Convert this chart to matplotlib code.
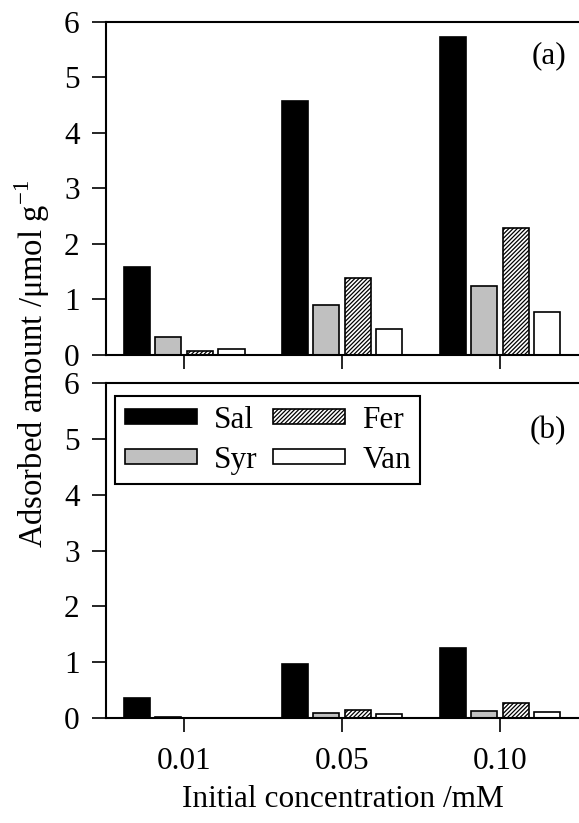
import numpy as np
import matplotlib.pyplot as plt
from matplotlib.patches import Patch

plt.rcParams['font.family'] = ['Liberation Serif', 'DejaVu Serif']
plt.rcParams['mathtext.fontset'] = 'custom'
plt.rcParams['mathtext.rm'] = 'Liberation Serif'
plt.rcParams['hatch.linewidth'] = 0.9

concs = ['0.01', '0.05', '0.10']
series = ['Sal', 'Syr', 'Fer', 'Van']

# panel (a)
sal_a = [1.58, 4.57, 5.73]
syr_a = [0.32, 0.90, 1.24]
fer_a = [0.07, 1.38, 2.28]
van_a = [0.10, 0.47, 0.77]

# panel (b)
sal_b = [0.36, 0.97, 1.26]
syr_b = [0.02, 0.09, 0.12]
fer_b = [0.00, 0.14, 0.27]
van_b = [0.00, 0.07, 0.11]

colors = ['black', '#c0c0c0', 'white', 'white']
hatches = [None, None, '////////', None]
offsets = [-0.3, -0.1, 0.1, 0.3]
width = 0.165
fs = 22.5

fig = plt.figure(figsize=(5.79, 8.23), dpi=100)
ax_a = fig.add_axes([0.183, 0.5687, 0.817, 0.4046])
ax_b = fig.add_axes([0.183, 0.1276, 0.817, 0.4070])

x = np.arange(len(concs))


def draw_panel(ax, data, label, label_y):
    for vals, c, h, off in zip(data, colors, hatches, offsets):
        ax.bar(x + off, vals, width=width, color=c, edgecolor='black',
               linewidth=1.2, hatch=h)
    ax.set_xlim(-0.495, 2.5)
    ax.set_ylim(0, 6)
    ax.set_yticks(range(7))
    ax.set_xticks(x)
    ax.tick_params(direction='out', length=10, width=1.2, labelsize=fs)
    ax.tick_params(axis='y', pad=9)
    ax.tick_params(axis='x', pad=11)
    for s in ax.spines.values():
        s.set_linewidth(1.5)
    ax.spines['right'].set_visible(False)
    ax.text(2.42, label_y, label, fontsize=fs, ha='right', va='center')


draw_panel(ax_a, [sal_a, syr_a, fer_a, van_a], '(a)', 5.39)
draw_panel(ax_b, [sal_b, syr_b, fer_b, van_b], '(b)', 5.14)
ax_a.set_xticklabels([])
ax_b.set_xticklabels(concs)

handles = [Patch(facecolor=c, edgecolor='black', hatch=h, linewidth=1.2)
           for c, h in zip(colors, hatches)]
leg = ax_b.legend(handles, series, ncol=2, loc='upper left',
                  bbox_to_anchor=(0.02, 0.96), borderaxespad=0, fontsize=fs,
                  handlelength=2.3, handleheight=0.35, handletextpad=0.55,
                  columnspacing=0.5, labelspacing=0.35, borderpad=0.3,
                  fancybox=False, framealpha=1)
leg.get_frame().set_edgecolor('black')
leg.get_frame().set_linewidth(1.5)

fig.text(0.056, 0.558, r'Adsorbed amount /$\mathrm{\mu}$mol g$^{-1}$',
         rotation=90, ha='center', va='center', fontsize=23.5)
fig.text(0.5916, 0.028, 'Initial concentration /mM',
         ha='center', va='center', fontsize=fs)

plt.savefig('out.png', dpi=100)
